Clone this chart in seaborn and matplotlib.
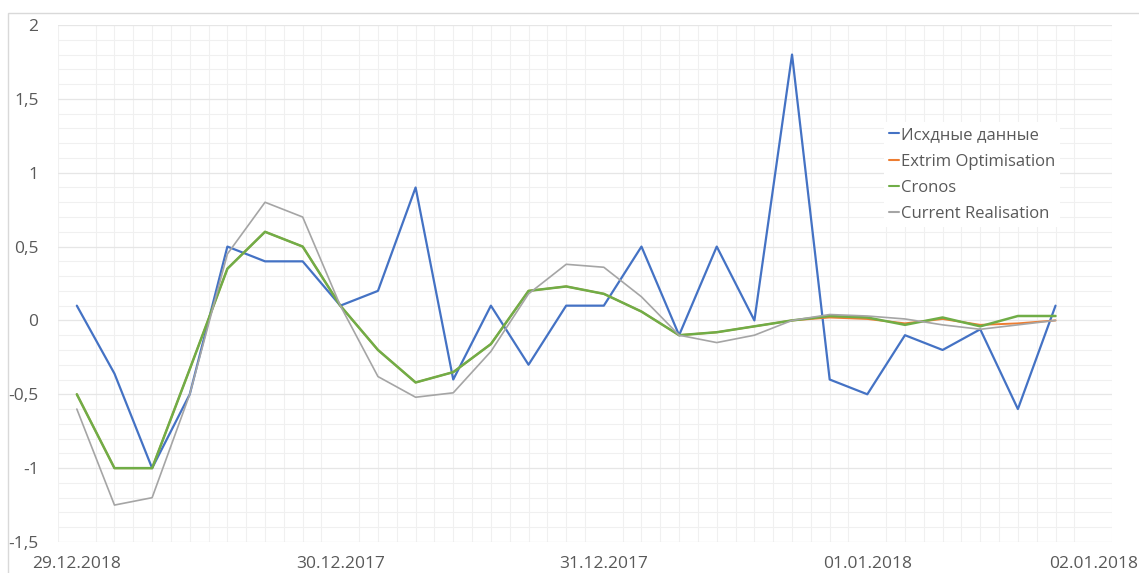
import matplotlib
matplotlib.use("Agg")
import matplotlib.pyplot as plt
import matplotlib.ticker as mticker
from matplotlib.patches import Rectangle
import seaborn as sns
import pandas as pd
import numpy as np

# values, one per step
steps = list(range(27))
ishodnye = [0.1, -0.36, -1.0, -0.5, 0.5, 0.4, 0.4, 0.1, 0.2, 0.9, -0.4, 0.1, -0.3, 0.1,
            0.1, 0.5, -0.1, 0.5, 0.0, 1.8, -0.4, -0.5, -0.1, -0.2, -0.06, -0.6, 0.1]
extrim = [-0.5, -1.0, -1.0, -0.33, 0.35, 0.6, 0.5, 0.1, -0.2, -0.42, -0.35, -0.16, 0.2, 0.23,
          0.18, 0.06, -0.1, -0.08, -0.04, 0.0, 0.02, 0.01, -0.02, 0.01, -0.03, -0.02, 0.0]
cronos = [-0.5, -1.0, -1.0, -0.33, 0.35, 0.6, 0.5, 0.1, -0.2, -0.42, -0.35, -0.16, 0.2, 0.23,
          0.18, 0.06, -0.1, -0.08, -0.04, 0.0, 0.03, 0.02, -0.03, 0.02, -0.04, 0.03, 0.03]
current = [-0.6, -1.25, -1.2, -0.5, 0.45, 0.8, 0.7, 0.1, -0.38, -0.52, -0.49, -0.21, 0.18, 0.38,
           0.36, 0.16, -0.1, -0.15, -0.1, 0.0, 0.04, 0.03, 0.01, -0.03, -0.06, -0.03, 0.0]

date_pos = [0, 7, 14, 21, 27]
date_labels = ["29.12.2018", "30.12.2017", "31.12.2017", "01.01.2018", "02.01.2018"]

series = {
    "Исхдные данные": (ishodnye, "#4472C4", 1.6),
    "Extrim Optimisation": (extrim, "#ED7D31", 1.4),
    "Cronos": (cronos, "#70AD47", 1.8),
    "Current Realisation": (current, "#A5A5A5", 1.2),
}

sns.set_style("white")
plt.rcParams["font.family"] = ["Open Sans", "DejaVu Sans"]
txt = "#595959"

fig = plt.figure(figsize=(11.39, 5.73), dpi=100)
ax = fig.add_axes([58 / 1139, 1 - 542 / 573, (1112 - 58) / 1139, (542 - 25) / 573])

# chart area border like in Excel
fig.patches.append(Rectangle((8 / 1139, -0.1), 1.2, 1 - 13 / 573 + 0.1, transform=fig.transFigure,
                             fill=False, edgecolor="#D9D9D9", linewidth=1))

for name, (vals, col, lw) in series.items():
    df = pd.DataFrame({"step": steps, "value": vals})
    sns.lineplot(data=df, x="step", y="value", ax=ax, color=col, linewidth=lw, label=name)

ax.set_xlim(-0.5, 27.5)
ax.set_ylim(-1.5, 2)
ax.set_xticks(date_pos)
ax.set_xticklabels(date_labels)
ax.set_xticks(np.arange(-0.5, 27.6, 0.5), minor=True)
ax.yaxis.set_major_locator(mticker.MultipleLocator(0.5))
ax.yaxis.set_minor_locator(mticker.MultipleLocator(0.1))
ax.yaxis.set_major_formatter(mticker.FuncFormatter(lambda v, p: f"{v:g}".replace(".", ",")))

ax.grid(which="major", axis="y", color="#E6E6E6", linewidth=0.9)
ax.grid(which="minor", axis="both", color="#F0F0F0", linewidth=0.8)
ax.set_axisbelow(True)
for s in ax.spines.values():
    s.set_visible(False)
ax.tick_params(axis="both", which="both", length=0, labelsize=12.5, labelcolor=txt)
ax.tick_params(axis="y", pad=14)
ax.tick_params(axis="x", pad=10)
ax.set_xlabel("")
ax.set_ylabel("")

leg = ax.legend(loc="upper left", bbox_to_anchor=(876 / 1139, 1 - 114 / 573),
                bbox_transform=fig.transFigure, frameon=True, fontsize=12,
                handlelength=0.6, handletextpad=0.1, labelspacing=0.62,
                borderpad=0.3, fancybox=False)
leg.get_frame().set_edgecolor("none")
leg.get_frame().set_facecolor("white")
leg.get_frame().set_alpha(1)
for t in leg.get_texts():
    t.set_color(txt)
for h in leg.get_lines():
    h.set_linewidth(1.5)

fig.savefig("out.png", dpi=100)
